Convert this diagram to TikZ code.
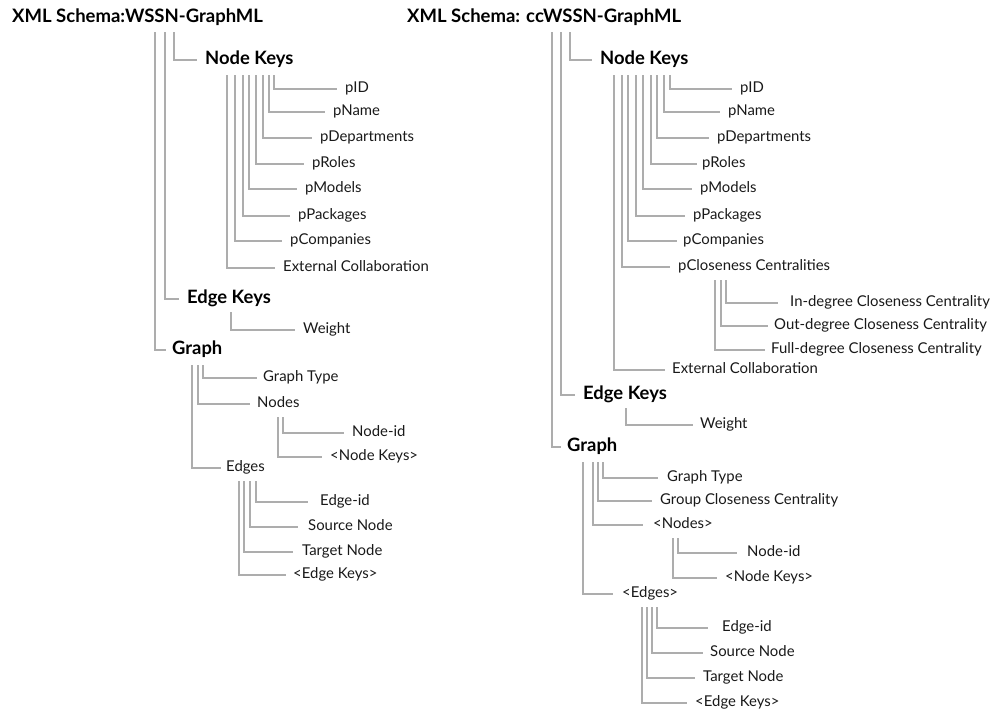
\documentclass[tikz,border=0pt]{standalone}
\usepackage{fontspec}
\setmainfont{Lato}
\begin{document}
\begin{tikzpicture}[x=1pt,y=1pt,
  lbl/.style={anchor=west,inner sep=0pt,text height=10.5pt,text depth=3.3pt,font=\fontsize{14.9}{17}\selectfont,text=black!90},
  hdr/.style={anchor=west,inner sep=0pt,text height=13pt,text depth=4pt,font=\fontsize{18.4}{21}\bfseries\selectfont,text=black},
  ttl/.style={anchor=west,inner sep=0pt,text height=13pt,text depth=4pt,font=\fontsize{18.5}{21}\bfseries\selectfont,text=black},
  conn/.style={draw=black!32,line width=1.2pt}]
\useasboundingbox (0,0) rectangle (993,-713);
% ---------------- left tree ----------------
\node[ttl] (T1) at (12,-18) {XML Schema:WSSN-GraphML};
\node[hdr] (NK1) at (205,-60) {Node Keys};
\node[lbl] (a1) at (345,-89) {pID};
\node[lbl] (a2) at (333,-112) {pName};
\node[lbl] (a3) at (320,-138) {pDepartments};
\node[lbl] (a4) at (312,-164) {pRoles};
\node[lbl] (a5) at (305,-189) {pModels};
\node[lbl] (a6) at (298,-216) {pPackages};
\node[lbl] (a7) at (290,-241) {pCompanies};
\node[lbl] (a8) at (283,-268) {External Collaboration};
\node[hdr] (EK1) at (187,-299) {Edge Keys};
\node[lbl] (w1) at (303,-330) {Weight};
\node[hdr] (G1) at (172,-350) {Graph};
\node[lbl] (gt1) at (263,-378) {Graph Type};
\node[lbl] (n1) at (257,-404) {Nodes};
\node[lbl] (ni1) at (352,-433) {Node-id};
\node[lbl] (nk1) at (330,-457) {<Node Keys>};
\node[lbl] (e1) at (226,-468) {Edges};
\node[lbl] (ei1) at (320,-502) {Edge-id};
\node[lbl] (es1) at (308,-527) {Source Node};
\node[lbl] (et1) at (302,-552) {Target Node};
\node[lbl] (ek1) at (293,-575) {<Edge Keys>};
% connectors
\draw[conn] ([shift={(162,-14)}]T1.west) |- ([xshift=-8]NK1.west);
\draw[conn] ([shift={(153,-14)}]T1.west) |- ([xshift=-8]EK1.west);
\draw[conn] ([shift={(143,-14)}]T1.west) |- ([xshift=-6]G1.west);
\draw[conn] ([shift={(69,-15)}]NK1.west) |- ([xshift=-8]a1.west);
\draw[conn] ([shift={(64,-15)}]NK1.west) |- ([xshift=-8]a2.west);
\draw[conn] ([shift={(58,-15)}]NK1.west) |- ([xshift=-8]a3.west);
\draw[conn] ([shift={(51,-15)}]NK1.west) |- ([xshift=-8]a4.west);
\draw[conn] ([shift={(44,-15)}]NK1.west) |- ([xshift=-8]a5.west);
\draw[conn] ([shift={(38,-15)}]NK1.west) |- ([xshift=-8]a6.west);
\draw[conn] ([shift={(30,-15)}]NK1.west) |- ([xshift=-8]a7.west);
\draw[conn] ([shift={(22,-15)}]NK1.west) |- ([xshift=-8]a8.west);
\draw[conn] ([shift={(44,-13)}]EK1.west) |- ([xshift=-8]w1.west);
\draw[conn] ([shift={(31,-15)}]G1.west) |- ([xshift=-6]gt1.west);
\draw[conn] ([shift={(26,-15)}]G1.west) |- ([xshift=-7]n1.west);
\draw[conn] ([shift={(20,-15)}]G1.west) |- ([xshift=-5]e1.west);
\draw[conn] ([shift={(26,-13)}]n1.west) |- ([xshift=-8]ni1.west);
\draw[conn] ([shift={(21,-13)}]n1.west) |- ([xshift=-8]nk1.west);
\draw[conn] ([shift={(30,-13)}]e1.west) |- ([xshift=-12]ei1.west);
\draw[conn] ([shift={(24,-13)}]e1.west) |- ([xshift=-10]es1.west);
\draw[conn] ([shift={(18,-13)}]e1.west) |- ([xshift=-9]et1.west);
\draw[conn] ([shift={(13,-13)}]e1.west) |- ([xshift=-7]ek1.west);
% ---------------- right tree ----------------
\node[ttl] (T2) at (407,-18) {XML Schema: ccWSSN-GraphML};
\node[hdr] (NK2) at (600,-60) {Node Keys};
\node[lbl] (b1) at (740,-89) {pID};
\node[lbl] (b2) at (728,-112) {pName};
\node[lbl] (b3) at (717,-138) {pDepartments};
\node[lbl] (b4) at (702,-164) {pRoles};
\node[lbl] (b5) at (700,-189) {pModels};
\node[lbl] (b6) at (693,-216) {pPackages};
\node[lbl] (b7) at (683,-241) {pCompanies};
\node[lbl] (b8) at (678,-267) {pCloseness Centralities};
\node[lbl] (c1) at (790,-303) {In-degree Closeness Centrality};
\node[lbl] (c2) at (774,-326) {Out-degree Closeness Centrality};
\node[lbl] (c3) at (771,-350) {Full-degree Closeness Centrality};
\node[lbl] (b9) at (672,-370) {External Collaboration};
\node[hdr] (EK2) at (583,-395) {Edge Keys};
\node[lbl] (w2) at (700,-425) {Weight};
\node[hdr] (G2) at (567,-447) {Graph};
\node[lbl] (gt2) at (667,-478) {Graph Type};
\node[lbl] (gc2) at (660,-501) {Group Closeness Centrality};
\node[lbl] (n2) at (653,-525) {<Nodes>};
\node[lbl] (ni2) at (747,-553) {Node-id};
\node[lbl] (nk2) at (725,-578) {<Node Keys>};
\node[lbl] (e2) at (622,-594) {<Edges>};
\node[lbl] (ei2) at (722,-628) {Edge-id};
\node[lbl] (es2) at (710,-653) {Source Node};
\node[lbl] (et2) at (703,-678) {Target Node};
\node[lbl] (ek2) at (695,-703) {<Edge Keys>};
% connectors
\draw[conn] ([shift={(163,-14)}]T2.west) |- ([xshift=-8]NK2.west);
\draw[conn] ([shift={(154,-14)}]T2.west) |- ([xshift=-8]EK2.west);
\draw[conn] ([shift={(145,-14)}]T2.west) |- ([xshift=-6]G2.west);
\draw[conn] ([shift={(70,-15)}]NK2.west) |- ([xshift=-8]b1.west);
\draw[conn] ([shift={(64,-15)}]NK2.west) |- ([xshift=-8]b2.west);
\draw[conn] ([shift={(57,-15)}]NK2.west) |- ([xshift=-8]b3.west);
\draw[conn] ([shift={(51,-15)}]NK2.west) |- ([xshift=-5]b4.west);
\draw[conn] ([shift={(43,-15)}]NK2.west) |- ([xshift=-8]b5.west);
\draw[conn] ([shift={(36,-15)}]NK2.west) |- ([xshift=-8]b6.west);
\draw[conn] ([shift={(28,-15)}]NK2.west) |- ([xshift=-6]b7.west);
\draw[conn] ([shift={(22,-15)}]NK2.west) |- ([xshift=-8]b8.west);
\draw[conn] ([shift={(14,-15)}]NK2.west) |- ([xshift=-7]b9.west);
\draw[conn] ([shift={(48,-13)}]b8.west) |- ([xshift=-12]c1.west);
\draw[conn] ([shift={(43,-13)}]b8.west) |- ([xshift=-6]c2.west);
\draw[conn] ([shift={(37,-13)}]b8.west) |- ([xshift=-6]c3.west);
\draw[conn] ([shift={(43,-13)}]EK2.west) |- ([xshift=-7]w2.west);
\draw[conn] ([shift={(36,-15)}]G2.west) |- ([xshift=-9]gt2.west);
\draw[conn] ([shift={(31,-15)}]G2.west) |- ([xshift=-8]gc2.west);
\draw[conn] ([shift={(26,-15)}]G2.west) |- ([xshift=-10]n2.west);
\draw[conn] ([shift={(16,-15)}]G2.west) |- ([xshift=-9]e2.west);
\draw[conn] ([shift={(25,-13)}]n2.west) |- ([xshift=-10]ni2.west);
\draw[conn] ([shift={(20,-13)}]n2.west) |- ([xshift=-8]nk2.west);
\draw[conn] ([shift={(35,-13)}]e2.west) |- ([xshift=-14]ei2.west);
\draw[conn] ([shift={(30,-13)}]e2.west) |- ([xshift=-7]es2.west);
\draw[conn] ([shift={(25,-13)}]e2.west) |- ([xshift=-8]et2.west);
\draw[conn] ([shift={(20,-13)}]e2.west) |- ([xshift=-8]ek2.west);
\end{tikzpicture}
\end{document}
